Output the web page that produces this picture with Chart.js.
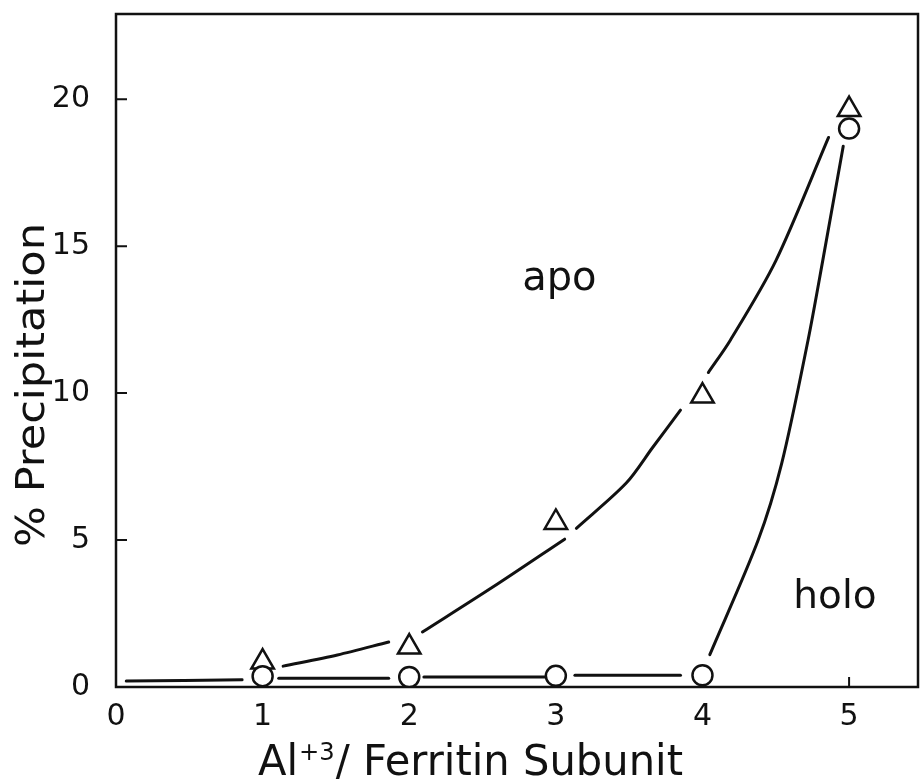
<!DOCTYPE html>
<html>
<head>
<meta charset="utf-8">
<script src="https://cdn.jsdelivr.net/npm/chart.js@4.4.1/dist/chart.umd.min.js"></script>
<style>
  html, body { margin: 0; padding: 0; background: #fff; overflow: hidden; }
  canvas { display: block; }
</style>
</head>
<body>
<canvas id="chart" width="921" height="780"></canvas>
<script>
// Al+3 per subunit vs % precipitation
const xTicks = [0, 1, 2, 3, 4, 5];
const yTicks = [0, 5, 10, 15, 20];
const ratio = [1, 2, 3, 4, 5];
const apoPct = [0.85, 1.36, 5.6, 9.9, 19.65];
const holoPct = [0.37, 0.34, 0.38, 0.4, 19.0];

// hand drawn curves, null = break in the line at a marker
const apoCurveX = [1.14, 1.51, 1.86, 2, 2.09, 2.57, 3.06, 3.1, 3.14, 3.48, 3.66, 3.85, 3.95, 4.04, 4.19, 4.5, 4.86];
const apoCurveY = [0.71, 1.09, 1.53, null, 1.87, 3.4, 5.03, null, 5.4, 6.94, 8.15, 9.42, null, 10.7, 11.8, 14.5, 18.7];
const holoCurveX = [0.07, 0.86, 1, 1.11, 1.86, 2, 2.1, 2.93, 3, 3.13, 3.85, 3.95, 4.05, 4.38, 4.54, 4.72, 4.82, 4.96];
const holoCurveY = [0.2, 0.25, null, 0.3, 0.3, null, 0.34, 0.34, null, 0.4, 0.4, null, 1.1, 5.0, 7.6, 11.8, 14.5, 18.4];

const FONT = "'DejaVu Sans', sans-serif";
const INK = "#111";

function pts(xs, ys) {
  return xs.map((x, i) => ({ x: x, y: ys[i] }));
}

// split a curve into pieces at the nulls
function pieces(xs, ys) {
  const out = [];
  let cur = [];
  xs.forEach((x, i) => {
    if (ys[i] === null) {
      if (cur.length) out.push(cur);
      cur = [];
    } else {
      cur.push({ x: x, y: ys[i] });
    }
  });
  if (cur.length) out.push(cur);
  return out;
}

function curveSets(xs, ys, name) {
  return pieces(xs, ys).map((seg, i) => ({
    label: name + " " + i,
    type: "line",
    data: seg,
    borderColor: INK,
    borderWidth: 3,
    borderCapStyle: "round",
    pointRadius: 0,
    tension: 0.3,
    fill: false,
  }));
}

// frame and inward ticks go under the markers
const framePlugin = {
  id: "frame",
  beforeDatasetsDraw(chart) {
    const ctx = chart.ctx;
    const a = chart.chartArea;
    const xs = chart.scales.x;
    const ys = chart.scales.y;
    ctx.save();
    ctx.strokeStyle = INK;
    ctx.lineWidth = 2.5;
    ctx.strokeRect(a.left, a.top, a.right - a.left, a.bottom - a.top);
    ctx.lineWidth = 2;
    ctx.beginPath();
    xTicks.slice(1).forEach(v => {
      const px = xs.getPixelForValue(v);
      ctx.moveTo(px, a.bottom);
      ctx.lineTo(px, a.bottom - 10);
    });
    yTicks.slice(1).forEach(v => {
      const py = ys.getPixelForValue(v);
      ctx.moveTo(a.left, py);
      ctx.lineTo(a.left + 11, py);
    });
    ctx.stroke();
    ctx.restore();
  }
};

// axis titles and the apo / holo labels
const textPlugin = {
  id: "texts",
  afterDraw(chart) {
    const ctx = chart.ctx;
    const xs = chart.scales.x;
    const ys = chart.scales.y;
    ctx.save();
    ctx.fillStyle = INK;
    ctx.textBaseline = "alphabetic";
    ctx.textAlign = "left";

    // y title, rotated
    ctx.save();
    ctx.translate(44, 547);
    ctx.rotate(-Math.PI / 2);
    ctx.font = "39px " + FONT;
    const yt = "% Precipitation";
    const yw = ctx.measureText(yt).width;
    ctx.scale(324 / yw, 1);
    ctx.fillText(yt, 0, 0);
    ctx.restore();

    // x title with superscript
    ctx.save();
    ctx.translate(258, 775);
    const big = "43px " + FONT;
    const sup = "25px " + FONT;
    ctx.font = big;
    const w1 = ctx.measureText("Al").width;
    ctx.font = sup;
    const w2 = ctx.measureText("+3").width;
    ctx.font = big;
    const w3 = ctx.measureText("/ Ferritin Subunit").width;
    ctx.scale(425 / (w1 + w2 + w3 + 2), 1);
    ctx.fillText("Al", 0, 0);
    ctx.font = sup;
    ctx.fillText("+3", w1 + 1, -15);
    ctx.font = big;
    ctx.fillText("/ Ferritin Subunit", w1 + w2 + 2, 0);
    ctx.restore();

    ctx.font = "40px " + FONT;
    ctx.fillText("apo", xs.getPixelForValue(2.77), ys.getPixelForValue(13.5));
    ctx.font = "39px " + FONT;
    ctx.fillText("holo", xs.getPixelForValue(4.62), ys.getPixelForValue(2.69));
    ctx.restore();
  }
};

function noPad(s) {
  s.paddingTop = 0;
  s.paddingBottom = 0;
  s.paddingLeft = 0;
  s.paddingRight = 0;
}

const ctx = document.getElementById("chart").getContext("2d");
new Chart(ctx, {
  type: "scatter",
  data: {
    datasets: [
      ...curveSets(apoCurveX, apoCurveY, "apo curve"),
      ...curveSets(holoCurveX, holoCurveY, "holo curve"),
      {
        label: "holo",
        data: pts(ratio, holoPct),
        pointStyle: "circle",
        pointRadius: 10,
        pointBorderWidth: 2.5,
        borderColor: INK,
        backgroundColor: "#fff",
      },
      {
        label: "apo",
        data: pts(ratio, apoPct),
        pointStyle: "triangle",
        pointRadius: 13,
        pointBorderWidth: 2.5,
        borderColor: INK,
        backgroundColor: "#fff",
      },
    ],
  },
  options: {
    responsive: false,
    animation: false,
    layout: { autoPadding: false, padding: { top: 14, right: 3, left: 0, bottom: 0 } },
    plugins: {
      legend: { display: false },
      tooltip: { enabled: false },
    },
    scales: {
      x: {
        type: "linear",
        min: 0,
        max: 5.47,
        afterBuildTicks: s => { s.ticks = xTicks.map(v => ({ value: v })); },
        afterFit: s => { s.height = 93; noPad(s); },
        grid: { display: false, drawTicks: false },
        border: { display: false },
        ticks: {
          color: INK,
          padding: 12,
          maxRotation: 0,
          font: { family: FONT, size: 30 },
        },
      },
      y: {
        type: "linear",
        min: 0,
        max: 22.9,
        afterBuildTicks: s => { s.ticks = yTicks.map(v => ({ value: v })); },
        afterFit: s => { s.width = 116; noPad(s); },
        grid: { display: false, drawTicks: false },
        border: { display: false },
        ticks: {
          color: INK,
          padding: 26,
          font: { family: FONT, size: 30 },
        },
      },
    },
  },
  plugins: [framePlugin, textPlugin],
});
</script>
</body>
</html>
